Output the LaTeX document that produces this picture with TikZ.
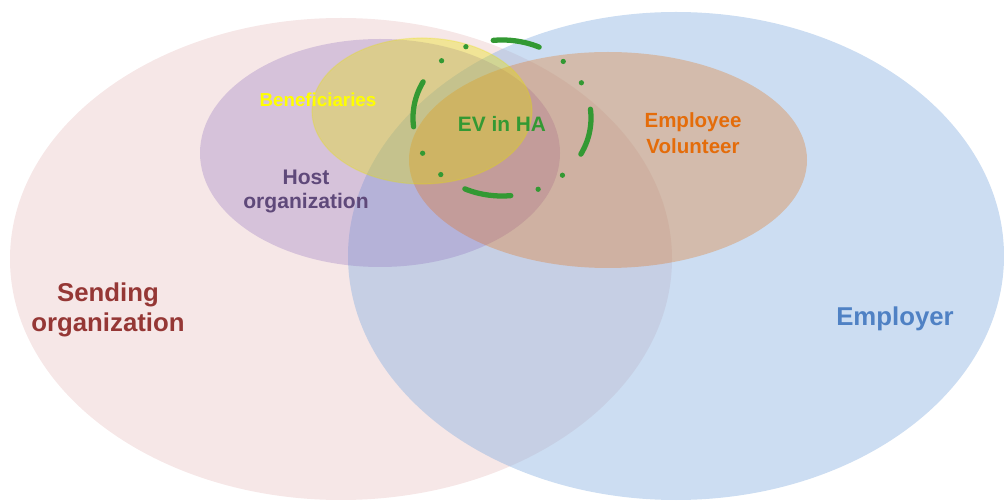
\documentclass[tikz,border=0pt]{standalone}
\usepackage{fontspec}
\setmainfont{Liberation Sans}
\definecolor{sendfill}{RGB}{230,185,185}
\definecolor{empfill}{RGB}{141,180,226}
\definecolor{hostfill}{RGB}{140,110,190}
\definecolor{volfill}{RGB}{228,108,10}
\definecolor{benfill}{RGB}{230,225,0}
\definecolor{sendtext}{RGB}{149,55,53}
\definecolor{emptext}{RGB}{79,129,196}
\definecolor{hosttext}{RGB}{95,73,122}
\definecolor{voltext}{RGB}{228,108,10}
\definecolor{bentext}{RGB}{255,255,0}
\definecolor{evgreen}{RGB}{51,153,51}
\begin{document}
\begin{tikzpicture}[x=0.03cm, y=0.03cm,
        lbl/.style={align=center, inner sep=0pt}]
    \useasboundingbox (0,0) rectangle (1004,501);
    \fill[sendfill, fill opacity=0.35] (341,242) ellipse [x radius=331, y radius=241];
    \fill[empfill, fill opacity=0.45] (676,245) ellipse [x radius=328, y radius=244];
    \fill[hostfill, fill opacity=0.3] (380,348) ellipse [x radius=180, y radius=114];
    \fill[volfill, fill opacity=0.3] (608,341) ellipse [x radius=199, y radius=108];
    \filldraw[benfill, fill opacity=0.35, draw opacity=0.25, line width=1pt] (422,390) ellipse [x radius=110, y radius=73];
    \draw[evgreen, line width=4.5pt, line cap=round,
        dash pattern=on 40pt off 24.03pt on 0pt off 24.03pt on 0pt off 24.03pt,
        dash phase=32.5pt] (502,383) ellipse [x radius=89, y radius=78];
    \node[lbl, text=sendtext, font=\bfseries\fontsize{22}{25.6}\selectfont] (sending) at (108,191) {Sending\\organization};
    \node[lbl, text=emptext, font=\bfseries\fontsize{22}{26}\selectfont, anchor=base] (employer) at (895,175) {Employer};
    \node[lbl, text=hosttext, font=\bfseries\fontsize{18}{21.3}\selectfont] (host) at (306,309.5) {Host\\organization};
    \node[lbl, text=voltext, font=\bfseries\fontsize{17.5}{22}\selectfont] (volunteer) at (693,368) {Employee\\Volunteer};
    \node[lbl, text=bentext, font=\bfseries\fontsize{16}{19}\selectfont, anchor=base] (benef) at (318,394) {Beneficiaries};
    \node[lbl, text=evgreen, font=\bfseries\fontsize{17.8}{21}\selectfont, anchor=base] (evha) at (502,369.5) {EV in HA};
\end{tikzpicture}
\end{document}
